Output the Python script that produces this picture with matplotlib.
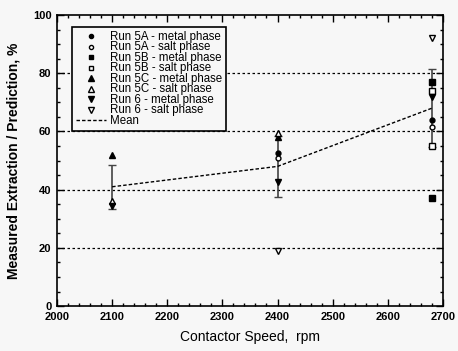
import matplotlib
import matplotlib.pyplot as plt
from matplotlib.ticker import MultipleLocator

matplotlib.use("Agg")

plt.rcParams["font.family"] = ["Liberation Sans", "DejaVu Sans"]

# measured extraction / prediction (%) per run and phase
run5a_metal_x = [2400, 2680]
run5a_metal_y = [52.5, 64]
run5a_salt_x = [2400, 2680]
run5a_salt_y = [51, 61.5]
run5b_metal_x = [2680, 2680]
run5b_metal_y = [77, 37]
run5b_salt_x = [2680, 2680]
run5b_salt_y = [74, 55]
run5c_metal_x = [2100, 2400]
run5c_metal_y = [52, 58]
run5c_salt_x = [2100, 2400]
run5c_salt_y = [36, 59.5]
run6_metal_x = [2100, 2400, 2680]
run6_metal_y = [34.5, 42.5, 72]
run6_salt_x = [2400, 2680]
run6_salt_y = [19, 92]

mean_x = [2100, 2400, 2680]
mean_y = [41, 48, 68]
mean_err = [7.5, 10.5, 13.5]

bg = "#f7f7f7"
fig = plt.figure(figsize=(4.58, 3.51), dpi=100, facecolor=bg)
ax = fig.add_axes([0.1245, 0.128, 0.8425, 0.829], facecolor=bg)

for y in (20, 40, 60, 80):
    ax.axhline(y, color="black", lw=0.9, ls=(0, (2, 2)), zorder=1)

ax.errorbar(mean_x, mean_y, yerr=mean_err, fmt="none", ecolor="#444444",
            elinewidth=1.2, capsize=3, capthick=1, zorder=2)

ms = 3.5
ax.plot(run5a_metal_x, run5a_metal_y, "o", color="black", ms=ms, ls="none",
        label="Run 5A - metal phase", zorder=3)
ax.plot(run5a_salt_x, run5a_salt_y, "o", mfc="white", mec="black", ms=ms,
        ls="none", label="Run 5A - salt phase", zorder=3)
ax.plot(run5b_metal_x, run5b_metal_y, "s", color="black", ms=ms + 0.5,
        ls="none", label="Run 5B - metal phase", zorder=3)
ax.plot(run5b_salt_x, run5b_salt_y, "s", mfc="white", mec="black",
        ms=ms + 0.5, ls="none", label="Run 5B - salt phase", zorder=3)
ax.plot(run5c_metal_x, run5c_metal_y, "^", color="black", ms=ms + 1,
        ls="none", label="Run 5C - metal phase", zorder=3)
ax.plot(run5c_salt_x, run5c_salt_y, "^", mfc="white", mec="black",
        ms=ms + 1, ls="none", label="Run 5C - salt phase", zorder=3)
ax.plot(run6_metal_x, run6_metal_y, "v", color="black", ms=ms + 1,
        ls="none", label="Run 6 - metal phase", zorder=3)
ax.plot(run6_salt_x, run6_salt_y, "v", mfc="white", mec="black",
        ms=ms + 1, ls="none", label="Run 6 - salt phase", zorder=3)
ax.plot(mean_x, mean_y, color="black", lw=1, ls=(0, (2.5, 1.5)),
        label="Mean", zorder=2)

ax.set_xlim(2000, 2700)
ax.set_ylim(0, 100)
ax.xaxis.set_major_locator(MultipleLocator(100))
ax.xaxis.set_minor_locator(MultipleLocator(20))
ax.yaxis.set_major_locator(MultipleLocator(20))
ax.yaxis.set_minor_locator(MultipleLocator(5))
ax.tick_params(which="both", direction="in", top=True, right=True, width=1)
ax.tick_params(which="major", length=5, labelsize=8, pad=4)
ax.tick_params(which="minor", length=2.5)
for lbl in ax.get_xticklabels() + ax.get_yticklabels():
    lbl.set_fontweight("bold")
for sp in ax.spines.values():
    sp.set_linewidth(1.2)

ax.set_xlabel("Contactor Speed,  rpm", fontsize=10, labelpad=6)
ax.set_ylabel("Measured Extraction / Prediction, %", fontsize=10,
              fontweight="bold", labelpad=9)

leg = ax.legend(loc="upper left", bbox_to_anchor=(0.038, 0.96), fontsize=8.3,
                labelspacing=-0.13, handlelength=2.6, handleheight=0.5,
                handletextpad=0.35, borderpad=0.35, frameon=True,
                fancybox=False, framealpha=1, markerscale=0.85,
                edgecolor="black", facecolor=bg, borderaxespad=0)
leg.get_frame().set_linewidth(1.2)

fig.savefig("out.png", dpi=100, facecolor=bg)
